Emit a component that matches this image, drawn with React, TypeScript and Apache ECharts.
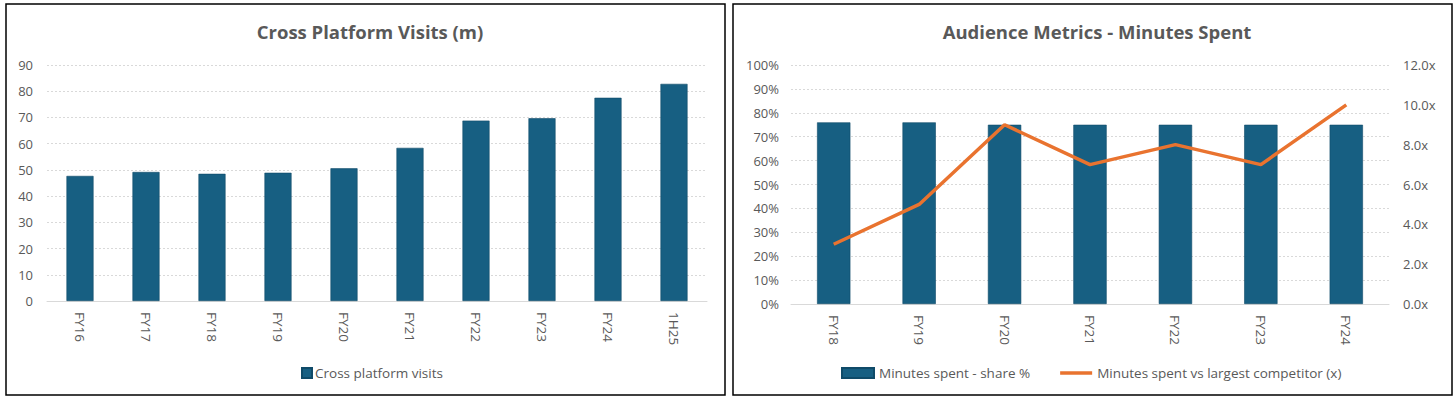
import React, { useEffect, useRef } from "react";
import * as echarts from "echarts";

const visitCategories = ["FY16", "FY17", "FY18", "FY19", "FY20", "FY21", "FY22", "FY23", "FY24", "1H25"];
const visitValues = [47.7, 49.2, 48.5, 48.9, 50.6, 58.4, 68.8, 69.7, 77.5, 82.8];

const minuteCategories = ["FY18", "FY19", "FY20", "FY21", "FY22", "FY23", "FY24"];
const shareValues = [0.76, 0.76, 0.75, 0.75, 0.75, 0.75, 0.75];
const competitorMultiple = [3.0, 5.0, 9.0, 7.0, 8.0, 7.0, 10.0];

const BAR = "#175f82";
const ORANGE = "#e9732f";
const TXT = "#595959";
const FONT = "'Open Sans', 'Noto Sans', sans-serif";

export default function App() {
  const ref = useRef<HTMLDivElement>(null);
  useEffect(() => {
    if (!ref.current) return;
    const chart = echarts.init(ref.current, undefined, { renderer: "svg" });
    const splitLine = { show: true, lineStyle: { color: "#d9d9d9", type: [2, 2] as any, width: 1 } };
    const axisLabel = { color: TXT, fontSize: 13, fontFamily: FONT };
    chart.setOption({
      animation: false,
      backgroundColor: "#ffffff",
      textStyle: { fontFamily: FONT },
      graphic: [
        { type: "rect", shape: { x: 6, y: 4, width: 719, height: 391 }, style: { fill: "none", stroke: "#000", lineWidth: 1.5 }, silent: true },
        { type: "rect", shape: { x: 733, y: 4, width: 719, height: 391 }, style: { fill: "none", stroke: "#000", lineWidth: 1.5 }, silent: true },
      ],
      title: [
        { text: "Cross Platform Visits (m)", left: 365, top: 17, textAlign: "center", textStyle: { color: TXT, fontSize: 18.5, fontWeight: "bold", fontFamily: FONT } },
        { text: "Audience Metrics - Minutes Spent", left: 1092, top: 17, textAlign: "center", textStyle: { color: TXT, fontSize: 18.5, fontWeight: "bold", fontFamily: FONT } },
      ],
      legend: [
        {
          data: ["Cross platform visits"], left: 296, top: 361, itemWidth: 10, itemHeight: 10, itemGap: 4,
          textStyle: { color: TXT, fontSize: 13.5, fontFamily: FONT, padding: [0, 0, 0, -2] }, icon: "rect",
        },
        {
          data: [
            { name: "Minutes spent - share %", icon: "rect" },
            { name: "Minutes spent vs largest competitor (x)", icon: "path://M0,0H32V3.5H0Z" },
          ],
          left: 836, top: 361, itemWidth: 32, itemHeight: 10, itemGap: 30,
          textStyle: { color: TXT, fontSize: 13.5, fontFamily: FONT },
        },
      ],
      grid: [
        { left: 47, right: 749, top: 65, bottom: 99 },
        { left: 791, right: 67, top: 65, bottom: 96 },
      ],
      xAxis: [
        {
          type: "category", gridIndex: 0, data: visitCategories,
          axisTick: { show: false }, axisLine: { lineStyle: { color: "#d9d9d9" } },
          axisLabel: { ...axisLabel, fontSize: 13.5, rotate: -90, margin: 11 },
        },
        {
          type: "category", gridIndex: 1, data: minuteCategories,
          axisTick: { show: false }, axisLine: { lineStyle: { color: "#d9d9d9" } },
          axisLabel: { ...axisLabel, fontSize: 13.5, rotate: -90, margin: 11 },
        },
      ],
      yAxis: [
        {
          type: "value", gridIndex: 0, min: 0, max: 90, interval: 10,
          axisLabel: { ...axisLabel, margin: 14 }, splitLine, axisLine: { show: false }, axisTick: { show: false },
        },
        {
          type: "value", gridIndex: 1, min: 0, max: 1, interval: 0.1,
          axisLabel: { ...axisLabel, margin: 12, formatter: (v: number) => Math.round(v * 100) + "%" },
          splitLine, axisLine: { show: false }, axisTick: { show: false },
        },
        {
          type: "value", gridIndex: 1, position: "right", min: 0, max: 12, interval: 2,
          axisLabel: { ...axisLabel, margin: 14, formatter: (v: number) => v.toFixed(1) + "x" },
          splitLine: { show: false }, axisLine: { show: false }, axisTick: { show: false },
        },
      ],
      series: [
        {
          name: "Cross platform visits", type: "bar", xAxisIndex: 0, yAxisIndex: 0,
          data: visitValues, barWidth: "41%",
          itemStyle: { color: BAR, borderColor: "#0f4a68", borderWidth: 0.6 },
        },
        {
          name: "Minutes spent - share %", type: "bar", xAxisIndex: 1, yAxisIndex: 1,
          data: shareValues, barWidth: "39%",
          itemStyle: { color: BAR, borderColor: "#0f4a68", borderWidth: 0.6 },
        },
        {
          name: "Minutes spent vs largest competitor (x)", type: "line", xAxisIndex: 1, yAxisIndex: 2,
          data: competitorMultiple, symbol: "none", showSymbol: false,
          lineStyle: { color: ORANGE, width: 3.5 }, itemStyle: { color: ORANGE },
        },
      ],
    });
    return () => chart.dispose();
  }, []);
  return (
    <div
      ref={ref}
      style={{ position: "fixed", left: 0, top: 0, width: 1456, height: 400, background: "#fff" }}
    />
  );
}
